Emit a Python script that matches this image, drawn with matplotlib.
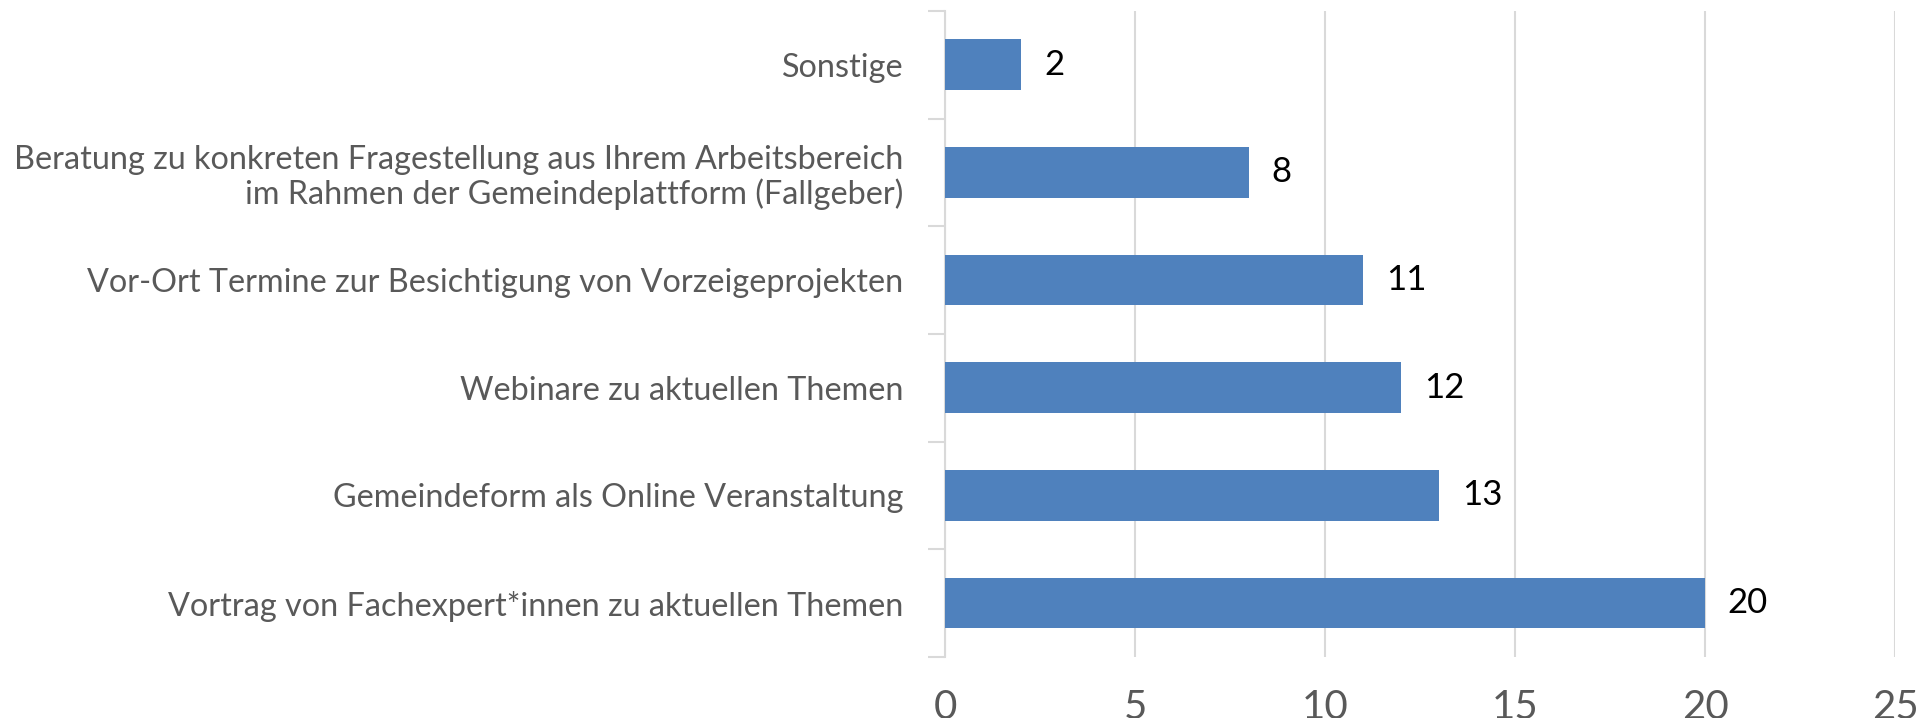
import matplotlib
matplotlib.use("Agg")
import matplotlib.pyplot as plt
import numpy as np

plt.rcParams['font.family'] = ['Lato', 'DejaVu Sans']

categories = [
    "Vortrag von Fachexpert*innen zu aktuellen Themen",
    "Gemeindeform als Online Veranstaltung",
    "Webinare zu aktuellen Themen",
    "Vor-Ort Termine zur Besichtigung von Vorzeigeprojekten",
    "Beratung zu konkreten Fragestellung aus Ihrem Arbeitsbereich\nim Rahmen der Gemeindeplattform (Fallgeber)",
    "Sonstige",
]
values = [20, 13, 12, 11, 8, 2]
xticks = [0, 5, 10, 15, 20, 25]

bar_color = "#4f81bd"
grid_color = "#d9d9d9"
label_color = "#595959"

fig = plt.figure(figsize=(19.19, 7.18), dpi=100)
ax = fig.add_axes([0.4925, 0.085, 0.495, 0.8998])

y = np.arange(len(categories))
ax.barh(y, values, height=0.47, color=bar_color, zorder=3)

for yi, v in zip(y, values):
    ax.text(v + 0.6, yi, str(v), va="center", ha="left", fontsize=25, color="black")

ax.set_xlim(0, 25)
ax.set_ylim(-0.5, len(categories) - 0.5)
ax.set_xticks(xticks)
ax.set_xticklabels([str(t) for t in xticks], fontsize=29, color=label_color)
ax.set_yticks(y)
ax.set_yticklabels(categories, fontsize=23.3, color=label_color, linespacing=1.15)
ax.set_yticks(np.arange(-0.5, len(categories)), minor=True)

ax.tick_params(axis="y", which="major", length=0, pad=30)
ax.tick_params(axis="y", which="minor", length=12, color=grid_color, width=1.5)
ax.tick_params(axis="x", length=0, pad=23)

ax.grid(axis="x", color=grid_color, linewidth=1.5, zorder=0)
for s in ["top", "right", "bottom"]:
    ax.spines[s].set_visible(False)
ax.spines["left"].set_color(grid_color)
ax.spines["left"].set_linewidth(1.5)

fig.savefig("out.png", dpi=100)
